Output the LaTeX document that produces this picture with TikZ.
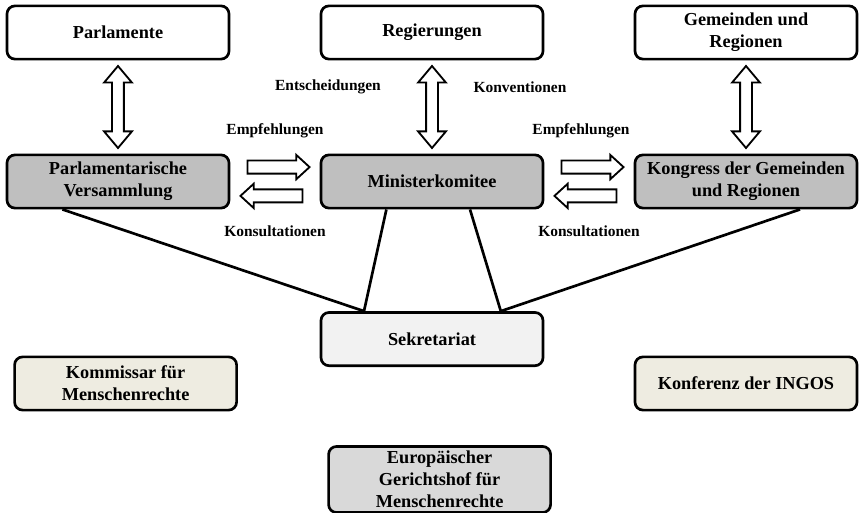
\documentclass[tikz,border=0pt]{standalone}
\usepackage{fontspec}
\setmainfont{Liberation Serif}
\usetikzlibrary{shapes.arrows}
\definecolor{organgrey}{HTML}{BFBFBF}
\definecolor{sekgrey}{HTML}{F2F2F2}
\definecolor{courtgrey}{HTML}{D9D9D9}
\definecolor{sidebeige}{HTML}{EEECE1}
\begin{document}
\begin{tikzpicture}[node distance=7.85cm,
    box/.style={draw, line width=1.9pt, rounded corners=0.2cm, minimum width=5.55cm, minimum height=1.33cm, align=center, font=\fontsize{13}{15.6}\selectfont\bfseries},
    vlink/.style={draw, double arrow, line width=1.3pt, fill=white, rotate=90, minimum height=2.05cm, inner sep=0pt, inner ysep=0.125cm, double arrow head extend=0.2cm, double arrow tip angle=80},
    hlink/.style={draw, single arrow, line width=1.3pt, fill=white, minimum height=1.55cm, inner sep=0pt, inner ysep=0.14cm, single arrow head extend=0.14cm, single arrow tip angle=85},
    lbl/.style={font=\fontsize{11}{13}\selectfont\bfseries},
    tie/.style={line width=1.9pt}]
    \useasboundingbox (-2.95,0.8125) rectangle (18.55,-12.0125);

    % members
    \node[box] (pa) {Parlamente};
    \node[box, right of=pa] (rg) {Regierungen};
    \node[box, right of=rg] (gr) {Gemeinden und\\Regionen};

    % organs
    \node[box, fill=organgrey, below of=pa, node distance=3.725cm] (pv) {Parlamentarische\\Versammlung};
    \node[box, fill=organgrey, right of=pv] (mk) {Ministerkomitee};
    \node[box, fill=organgrey, right of=mk] (kg) {Kongress der Gemeinden\\und Regionen};

    \node[box, fill=sekgrey, below of=mk, node distance=3.94cm] (sk) {Sekretariat};
    \node[box, fill=sidebeige, below of=pv, node distance=5.05cm, xshift=0.19cm] (km) {Kommissar für\\Menschenrechte};
    \node[box, fill=sidebeige, below of=kg, node distance=5.05cm] (ki) {Konferenz der INGOS};
    \node[box, fill=courtgrey, below of=mk, node distance=7.45cm, xshift=0.19cm, minimum height=1.625cm] (eg) {Europäischer\\Gerichtshof für\\Menschenrechte};

    % vertical links
    \path (pa) -- node[vlink] {} (pv);
    \path (rg) -- node[vlink] {}
        node[lbl, xshift=-2.6cm, yshift=0.5cm] {Entscheidungen}
        node[lbl, xshift=2.2cm, yshift=0.5cm] {Konventionen} (mk);
    \path (gr) -- node[vlink] {} (kg);

    % horizontal links
    \path (pv) -- node[hlink, yshift=0.36cm] {}
        node[hlink, shape border rotate=180, yshift=-0.36cm] {}
        node[lbl, yshift=1.27cm] {Empfehlungen}
        node[lbl, yshift=-1.24cm] {Konsultationen} (mk);
    \path (mk) -- node[hlink, yshift=0.36cm] {}
        node[hlink, shape border rotate=180, yshift=-0.36cm] {}
        node[lbl, xshift=-0.2cm, yshift=1.27cm] {Empfehlungen}
        node[lbl, yshift=-1.24cm] {Konsultationen} (kg);

    % lines to the secretariat
    \draw[tie] ([xshift=-1.39cm]pv.south) -- ([xshift=-1.7cm]sk.north);
    \draw[tie] ([xshift=-1.14cm]mk.south) -- ([xshift=-1.7cm]sk.north);
    \draw[tie] ([xshift=0.95cm]mk.south) -- ([xshift=1.72cm]sk.north);
    \draw[tie] ([xshift=1.35cm]kg.south) -- ([xshift=1.72cm]sk.north);
\end{tikzpicture}
\end{document}
